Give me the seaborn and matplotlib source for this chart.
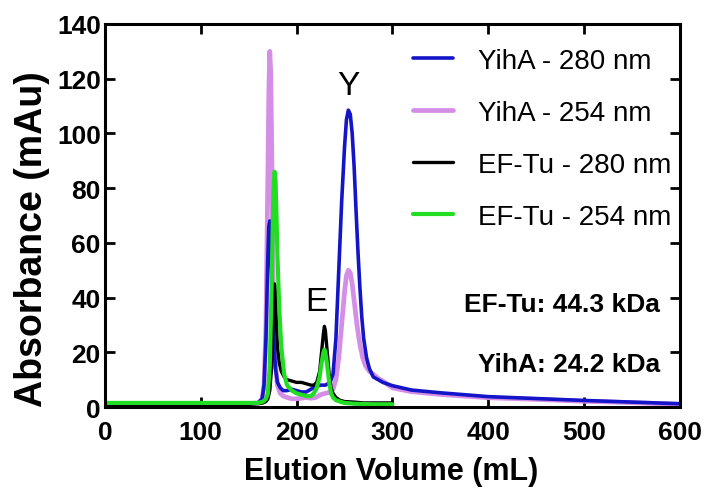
import matplotlib
matplotlib.use("Agg")
import matplotlib.pyplot as plt
import seaborn as sns
import pandas as pd

# ---- data ----
yiha280_x = [0, 50, 100, 150, 160, 164, 166, 168, 170, 171, 172, 173, 174, 176, 178, 180, 183, 186, 190,
             195, 200, 205, 210, 215, 220, 225, 230, 235, 238, 241, 244, 247, 250, 252, 254, 256, 258, 260,
             262, 264, 266, 268, 270, 273, 276, 280, 285, 290, 300, 320, 350, 400, 450, 500, 550, 600]
yiha280_y = [1, 1, 1, 1.2, 1.5, 3, 8, 25, 55, 66, 68, 60, 45, 25, 14, 9, 7, 6, 6,
             6.5, 6, 5.5, 5.5, 6.5, 7.5, 8, 8, 9, 12, 25, 50, 75, 95, 105, 108.5, 107, 100, 88,
             72, 57, 44, 33, 25, 18, 14, 11, 10, 9, 7.8, 6.2, 5.2, 3.8, 3.1, 2.4, 1.8, 1.2]

yiha254_x = [0, 50, 100, 150, 160, 164, 166, 168, 170, 171, 172, 173, 174, 175, 176, 178, 180, 183, 186,
             190, 195, 200, 205, 210, 215, 220, 225, 230, 235, 238, 241, 244, 247, 250, 252, 254, 256, 258,
             260, 263, 266, 269, 272, 276, 280, 285, 290, 300, 320, 350, 400, 450, 500, 550, 600]
yiha254_y = [1, 1, 1, 1.2, 1.5, 3, 8, 30, 85, 115, 130, 122, 95, 60, 35, 15, 8, 5, 4,
             3.5, 3, 3, 3.2, 3.5, 3.2, 3.5, 4.5, 5, 5.5, 6.5, 10, 18, 30, 42, 48, 50, 49, 45,
             39, 30, 23, 18, 15, 13, 12, 10.5, 9.5, 7, 5.6, 4.6, 3.4, 2.8, 2.1, 1.6, 1.0]

eftu280_x = [0, 50, 100, 150, 160, 165, 168, 170, 172, 174, 175, 176, 177, 178, 179, 180, 182, 184, 187,
             190, 195, 200, 205, 210, 215, 218, 221, 224, 226, 228, 229, 230, 232, 234, 236, 238, 241, 245,
             250, 260, 270, 280, 290, 300]
eftu280_y = [1, 1, 1, 1, 1.2, 1.5, 2, 3, 6, 15, 25, 38, 45, 42, 30, 22, 16, 13, 11,
             10, 9.5, 9, 9, 8.5, 8, 8, 9, 13, 20, 27, 29.5, 28, 20, 12, 7, 5, 3.5, 2.5,
             2, 1.8, 1.5, 1.5, 1.5, 1.5]

eftu254_x = [0, 50, 100, 150, 160, 165, 168, 170, 172, 174, 175, 176, 177, 178, 179, 180, 182, 184, 187,
             190, 195, 200, 205, 210, 215, 218, 221, 224, 226, 228, 229, 230, 232, 234, 236, 238, 241, 245,
             250, 260, 280, 300]
eftu254_y = [1.5, 1.5, 1.5, 1.5, 1.5, 2, 3, 5, 15, 45, 65, 80, 86, 83, 70, 55, 35, 22, 12,
             8, 6, 5, 4.5, 4, 4, 5, 7, 11, 16, 20, 21, 20, 15, 9, 5, 3.5, 2.5, 2,
             1.5, 1.2, 1, 1]

labels = ["YihA - 280 nm", "YihA - 254 nm", "EF-Tu - 280 nm", "EF-Tu - 254 nm"]
x_ticks = [0, 100, 200, 300, 400, 500, 600]
y_ticks = [0, 20, 40, 60, 80, 100, 120, 140]

# ---- plotting ----
sns.set_style("ticks")
plt.rcParams['font.family'] = ['Liberation Sans', 'DejaVu Sans']
plt.rcParams['text.color'] = 'black'
plt.rcParams['axes.labelcolor'] = 'black'
plt.rcParams['xtick.color'] = 'black'
plt.rcParams['ytick.color'] = 'black'

fig = plt.figure(figsize=(7.06, 4.89), dpi=100)
ax = fig.add_axes([0.1487, 0.1656, 0.8143, 0.7833])

colors = {"YihA - 280 nm": "#1414c8", "YihA - 254 nm": "#d48ee6",
          "EF-Tu - 280 nm": "#000000", "EF-Tu - 254 nm": "#22dd22"}
widths = {"YihA - 280 nm": 2.6, "YihA - 254 nm": 3.4,
          "EF-Tu - 280 nm": 2.4, "EF-Tu - 254 nm": 3.0}
series = {"YihA - 280 nm": (yiha280_x, yiha280_y), "YihA - 254 nm": (yiha254_x, yiha254_y),
          "EF-Tu - 280 nm": (eftu280_x, eftu280_y), "EF-Tu - 254 nm": (eftu254_x, eftu254_y)}

for name in ["YihA - 254 nm", "YihA - 280 nm", "EF-Tu - 280 nm", "EF-Tu - 254 nm"]:
    xs, ys = series[name]
    df = pd.DataFrame({"x": xs, "y": ys})
    sns.lineplot(data=df, x="x", y="y", ax=ax, color=colors[name], lw=widths[name],
                 estimator=None, sort=False, label=name, legend=False)

ax.set_xlim(0, 600)
ax.set_ylim(0, 140)
ax.set_xticks(x_ticks)
ax.set_yticks(y_ticks)
ax.set_xticklabels([str(v) for v in x_ticks], fontweight='bold', fontsize=19, color='black')
ax.set_yticklabels([str(v) for v in y_ticks], fontweight='bold', fontsize=19, color='black')
ax.tick_params(direction='in', length=7, width=2, top=True, right=True, color='black')
ax.tick_params(axis='x', pad=9)
ax.tick_params(axis='y', pad=3)
for sp in ax.spines.values():
    sp.set_linewidth(2.2)
    sp.set_color('black')

xl = ax.set_xlabel("Elution Volume (mL)", fontsize=22, fontweight='bold', color='black')
xl.set_va('center')
ax.xaxis.set_label_coords(0.497, -0.167)
yl = ax.set_ylabel("Absorbance (mAu)", fontsize=27, fontweight='bold', color='black')
yl.set_va('center')
ax.yaxis.set_label_coords(-0.127, 0.44)

handles = {l.get_label(): l for l in ax.get_lines()}
leg = ax.legend([handles[n] for n in labels], labels, loc='upper left',
                bbox_to_anchor=(0.535, 0.937), frameon=False, fontsize=20,
                handlelength=1.45, handletextpad=0.9, labelspacing=0.93,
                borderaxespad=0, borderpad=0)
for t in leg.get_texts():
    t.set_color('black')

ax.text(254, 117.5, "Y", fontsize=24, ha='center', va='center', color='black')
ax.text(221, 38.7, "E", fontsize=24, ha='center', va='center', color='black')
ax.text(579, 37.6, "EF-Tu: 44.3 kDa", fontsize=19, fontweight='bold', ha='right', va='center', color='black')
ax.text(579, 15.7, "YihA: 24.2 kDa", fontsize=19, fontweight='bold', ha='right', va='center', color='black')

fig.savefig("out.png", dpi=100)
